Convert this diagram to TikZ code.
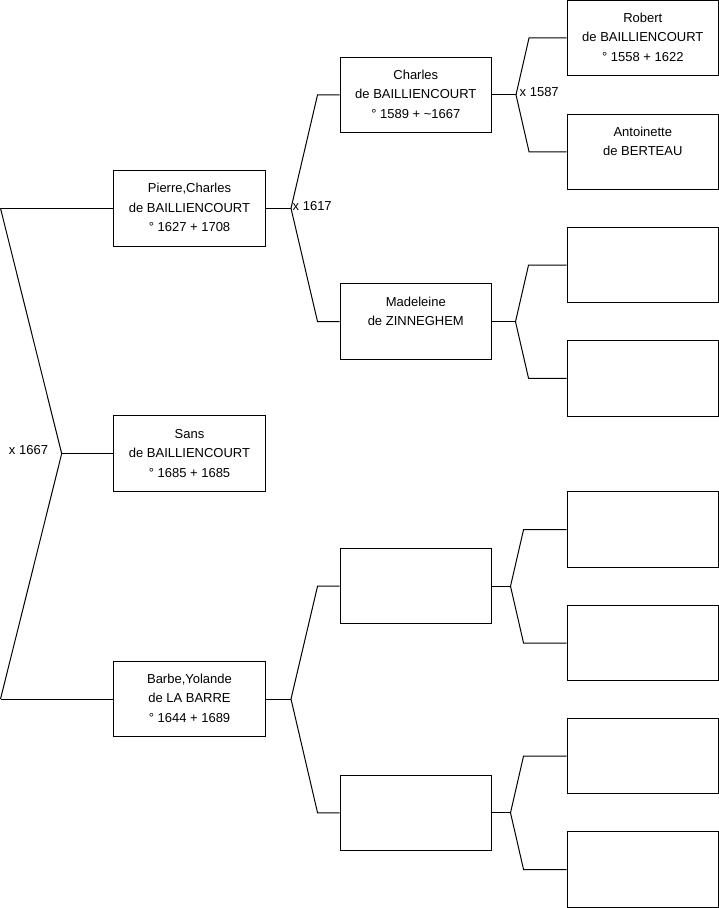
\documentclass[tikz,border=0pt]{standalone}
\usepackage{fontspec}
\setmainfont{Liberation Sans}
\begin{document}
\begin{tikzpicture}[x=1pt,y=-1pt,
  box/.style={draw=black, line width=1pt, minimum width=151.5pt, minimum height=75.5pt,
    inner sep=0pt, align=center, font=\fontsize{13}{19.5}\selectfont},
  lbl/.style={inner sep=0pt, font=\fontsize{13}{15}\selectfont},
  link/.style={draw=black, line width=1pt, line join=miter}]
\useasboundingbox (0,0) rectangle (719,908);

% generation 1
\node[box] (pierre) at (189.5,208.3) {\strut Pierre,Charles\\de BAILLIENCOURT\\° 1627 + 1708\strut};
\node[box] (sans)   at (189.5,453.6) {\strut Sans\\de BAILLIENCOURT\\° 1685 + 1685\strut};
\node[box] (barbe)  at (189.5,699.0) {\strut Barbe,Yolande\\de LA BARRE\\° 1644 + 1689\strut};

% generation 2
\node[box] (charles)   at (415.8,94.8)  {\strut Charles\\de BAILLIENCOURT\\° 1589 + \textasciitilde1667\strut};
\node[box] (madeleine) at (415.8,321.7) {\strut Madeleine\\de ZINNEGHEM\\\strut};
\node[box] (ea)        at (415.8,586.2) {};
\node[box] (eb)        at (415.8,812.8) {};

% generation 3
\node[box] (robert)     at (642.8,37.8)  {\strut Robert\\de BAILLIENCOURT\\° 1558 + 1622\strut};
\node[box] (antoinette) at (642.8,151.8) {\strut Antoinette\\de BERTEAU\\\strut};
\node[box] (g3)  at (642.8,265.0) {};
\node[box] (g4)  at (642.8,378.3) {};
\node[box] (g5)  at (642.8,529.7) {};
\node[box] (g6)  at (642.8,643.0) {};
\node[box] (g7)  at (642.8,756.0) {};
\node[box] (g8)  at (642.8,869.5) {};

% root fork
\coordinate (rt) at (0.5,208.3);
\coordinate (rb) at (0.5,699.0);
\coordinate (rf) at (61.7,453.6);
\draw[link] (rt) -- (pierre.west);
\draw[link] (rb) -- (barbe.west);
\draw[link] (rt) -- (rf) -- (rb);
\draw[link] (rf) -- (sans.west);
\node[lbl] (m1667) at (28.5,450.5) {x 1667};

% Pierre fork
\coordinate (pf) at (291,208.3);
\draw[link] (pierre.east) -- (pf);
\draw[link] (pf) -- ([xshift=-22pt]charles.west) -- (charles.west);
\draw[link] (pf) -- ([xshift=-22pt]madeleine.west) -- (madeleine.west);
\node[lbl, anchor=west] (m1617) at (292.5,206.3) {x 1617};

% Barbe fork
\coordinate (bf) at (291,699.0);
\draw[link] (barbe.east) -- (bf);
\draw[link] (bf) -- ([xshift=-22pt]ea.west) -- (ea.west);
\draw[link] (bf) -- ([xshift=-22pt]eb.west) -- (eb.west);

% Charles fork
\coordinate (cf) at (516,94.8);
\draw[link] (charles.east) -- (cf);
\draw[link] (cf) -- ([xshift=-37.5pt]robert.west) -- (robert.west);
\draw[link] (cf) -- ([xshift=-37.5pt]antoinette.west) -- (antoinette.west);
\node[lbl, anchor=west] (m1587) at (519.5,92.3) {x 1587};

% Madeleine fork
\coordinate (mf) at (515.5,321.7);
\draw[link] (madeleine.east) -- (mf);
\draw[link] (mf) -- ([xshift=-38pt]g3.west) -- (g3.west);
\draw[link] (mf) -- ([xshift=-38pt]g4.west) -- (g4.west);

% empty fork a
\coordinate (af) at (510.5,586.2);
\draw[link] (ea.east) -- (af);
\draw[link] (af) -- ([xshift=-43pt]g5.west) -- (g5.west);
\draw[link] (af) -- ([xshift=-43pt]g6.west) -- (g6.west);

% empty fork b
\coordinate (bf2) at (510.5,812.8);
\draw[link] (eb.east) -- (bf2);
\draw[link] (bf2) -- ([xshift=-43pt]g7.west) -- (g7.west);
\draw[link] (bf2) -- ([xshift=-43pt]g8.west) -- (g8.west);
\end{tikzpicture}
\end{document}
